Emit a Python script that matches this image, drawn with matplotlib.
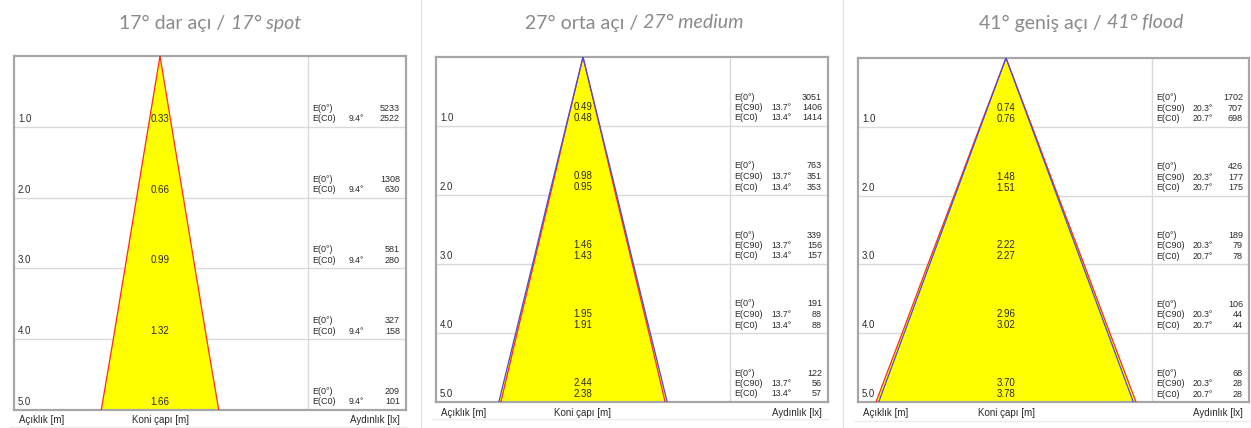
import numpy as np
import matplotlib
matplotlib.use("Agg")
import matplotlib.pyplot as plt
from matplotlib.lines import Line2D

# Figure size in pixels
W, H = 1251, 428
DPI = 100

# Colours
YELLOW = '#ffff00'
RED = '#ff2a1a'
BLUE = '#4a4ae0'
BORDER = '#a6a6a6'
GRID = '#d9d9d9'
TEXT = '#2a2a2a'
TITLE_GRAY = '#8a8a8a'
FONT = ['Liberation Sans', 'DejaVu Sans']

# Data
distances = [1.0, 2.0, 3.0, 4.0, 5.0]
distance_labels = ['1.0', '2.0', '3.0', '4.0', '5.0']

spot_c0_diam = [0.33, 0.66, 0.99, 1.32, 1.66]
spot_e0 = [5233, 1308, 581, 327, 209]
spot_ec0 = [2522, 630, 280, 158, 101]
spot_c0_angle = '9.4°'

medium_c90_diam = [0.49, 0.98, 1.46, 1.95, 2.44]
medium_c0_diam = [0.48, 0.95, 1.43, 1.91, 2.38]
medium_e0 = [3051, 763, 339, 191, 122]
medium_ec90 = [1406, 351, 156, 88, 56]
medium_ec0 = [1414, 353, 157, 88, 57]
medium_c90_angle = '13.7°'
medium_c0_angle = '13.4°'

flood_c90_diam = [0.74, 1.48, 2.22, 2.96, 3.70]
flood_c0_diam = [0.76, 1.51, 2.27, 3.02, 3.78]
flood_e0 = [1702, 426, 189, 106, 68]
flood_ec90 = [707, 177, 79, 44, 28]
flood_ec0 = [698, 175, 78, 44, 28]
flood_c90_angle = '20.3°'
flood_c0_angle = '20.7°'

titles = [('17° dar açı / ', '17° spot'),
          ('27° orta açı / ', '27° medium'),
          ('41° geniş açı / ', '41° flood')]

# Pixel layout of each panel: box left, right, top, bottom, apex x, divider x,
# title centre x, label row y, underline y
LAYOUT = [
    dict(left=14, right=406, top=56, bottom=410, apex=160, div=308, tx=210, ly=420, uy=427),
    dict(left=436, right=828, top=57, bottom=402, apex=583, div=730, tx=634, ly=413, uy=419),
    dict(left=858, right=1249, top=58, bottom=402, apex=1006, div=1152, tx=1081, ly=413, uy=421),
]


def fx(px):
    return px / W


def fy(py):
    return 1 - py / H


def draw_panel(fig, lay, c90_diam, c0_diam, e0, ec90, ec0, c90_angle, c0_angle):
    scale = (lay['bottom'] - lay['top']) / 5.0  # px per metre
    ax = fig.add_axes([fx(lay['left']), fy(lay['bottom']),
                       (lay['right'] - lay['left']) / W,
                       (lay['bottom'] - lay['top']) / H])
    x0 = (lay['left'] - lay['apex']) / scale
    x1 = (lay['right'] - lay['apex']) / scale
    xdiv = (lay['div'] - lay['apex']) / scale
    ax.set_xlim(x0, x1)
    ax.set_ylim(5.0, 0.0)
    ax.set_xticks([])
    ax.set_yticks([])
    for s in ax.spines.values():
        s.set_color(BORDER)
        s.set_linewidth(1.6)

    def dy(px):
        return px / scale

    def dx(px):
        return (px - lay['apex']) / scale

    # grid
    for d in distances[:-1]:
        ax.axhline(d, color=GRID, lw=1.0, zorder=1)
    ax.axvline(xdiv, color=GRID, lw=1.0, zorder=1)

    # cone
    planes = [p for p in (c90_diam, c0_diam) if p is not None]
    outer = np.max(np.array(planes), axis=0) / 2.0
    ys = np.concatenate([[0.0], distances])
    xs = np.concatenate([[0.0], outer])
    ax.fill(np.concatenate([-xs[::-1], xs]), np.concatenate([ys[::-1], ys]),
            color=YELLOW, lw=0, zorder=2)
    if c0_diam is not None:
        half = np.concatenate([[0.0], np.array(c0_diam) / 2.0])
        ax.plot(half, ys, color=RED, lw=0.9, zorder=3)
        ax.plot(-half, ys, color=RED, lw=0.9, zorder=3)
    if c90_diam is not None:
        half = np.concatenate([[0.0], np.array(c90_diam) / 2.0])
        ax.plot(half, ys, color=BLUE, lw=0.9, zorder=3)
        ax.plot(-half, ys, color=BLUE, lw=0.9, zorder=3)

    fs = 6.5
    for i, d in enumerate(distances):
        base = d - dy(8)
        ax.text(dx(lay['left'] + 4), base, distance_labels[i], fontsize=fs + 0.4,
                color=TEXT, va='center', ha='left', family=FONT, zorder=4)
        # cone diameters
        diam_lines = [f'{p[i]:.2f}' for p in (c90_diam, c0_diam) if p is not None]
        for k, txt in enumerate(reversed(diam_lines)):
            ax.text(0, base - dy(11) * k, txt, fontsize=fs + 0.5, color=TEXT,
                    va='center', ha='center', family=FONT, zorder=4)
        # illuminance
        rows = [('E(0°)', '', e0[i])]
        if ec90 is not None:
            rows.append(('E(C90)', c90_angle, ec90[i]))
        rows.append(('E(C0)', c0_angle, ec0[i]))
        for k, (name, ang, val) in enumerate(reversed(rows)):
            y = base - dy(10.5) * k
            ax.text(dx(lay['div'] + 4), y, name, fontsize=fs, color=TEXT,
                    va='center', ha='left', family=FONT)
            ax.text(dx(lay['div'] + 41), y, ang, fontsize=fs - 0.3, color=TEXT,
                    va='center', ha='left', family=FONT)
            ax.text(dx(lay['right'] - 6), y, str(val), fontsize=fs, color=TEXT,
                    va='center', ha='right', family=FONT)

    # labels under the box
    fig.text(fx(lay['left'] + 5), fy(lay['ly']), 'Açıklık [m]', fontsize=7,
             color=TEXT, va='center', ha='left', family=FONT)
    fig.text(fx(lay['apex']), fy(lay['ly']), 'Koni çapı [m]', fontsize=7,
             color=TEXT, va='center', ha='center', family=FONT)
    fig.text(fx(lay['right'] - 6), fy(lay['ly']), 'Aydınlık [lx]', fontsize=7,
             color=TEXT, va='center', ha='right', family=FONT)
    fig.add_artist(Line2D([fx(lay['left'] - 4), fx(lay['right'])],
                          [fy(lay['uy']), fy(lay['uy'])], color='#ececec', lw=1.0))


def draw_title(fig, cx, plain, italic):
    kw = dict(fontsize=14, color=TITLE_GRAY, va='center', family=['Lato', 'DejaVu Sans'])
    t1 = fig.text(0, fy(23), plain, ha='left', **kw)
    t2 = fig.text(0, fy(23), italic, ha='left', style='italic', **kw)
    r = fig.canvas.get_renderer()
    w1 = t1.get_window_extent(r).width
    w2 = t2.get_window_extent(r).width
    start = cx - (w1 + w2) / 2
    t1.set_x(fx(start))
    t2.set_x(fx(start + w1))


def main():
    fig = plt.figure(figsize=(W / DPI, H / DPI), dpi=DPI)
    fig.patch.set_facecolor('white')

    # light separators between the panels
    for sx in (421, 843):
        fig.add_artist(Line2D([fx(sx), fx(sx)], [0, 1], color='#e3e3e3', lw=1.0))

    draw_panel(fig, LAYOUT[0], None, spot_c0_diam, spot_e0, None, spot_ec0,
               None, spot_c0_angle)
    draw_panel(fig, LAYOUT[1], medium_c90_diam, medium_c0_diam, medium_e0,
               medium_ec90, medium_ec0, medium_c90_angle, medium_c0_angle)
    draw_panel(fig, LAYOUT[2], flood_c90_diam, flood_c0_diam, flood_e0,
               flood_ec90, flood_ec0, flood_c90_angle, flood_c0_angle)

    for lay, (plain, italic) in zip(LAYOUT, titles):
        draw_title(fig, lay['tx'], plain, italic)

    fig.savefig('out.png', dpi=DPI)


if __name__ == "__main__":
    main()
